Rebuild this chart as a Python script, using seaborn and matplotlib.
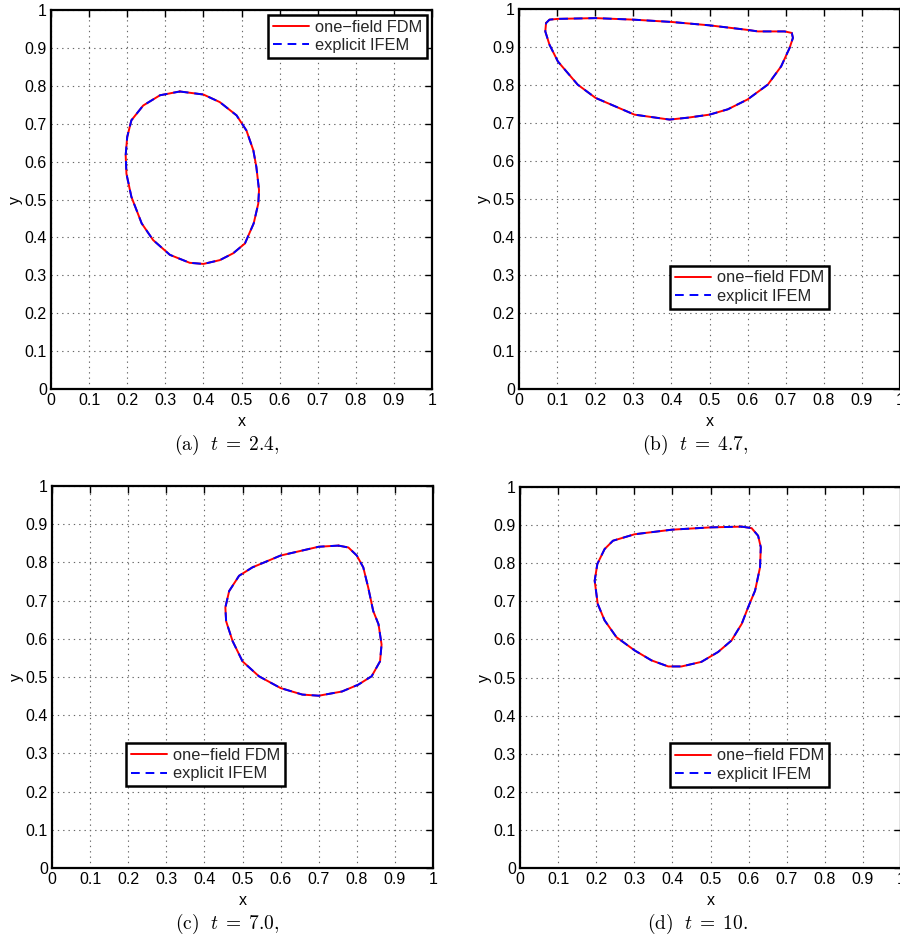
import matplotlib
matplotlib.use("Agg")
import matplotlib.pyplot as plt
import seaborn as sns
import pandas as pd

sns.set_theme(style="white")
plt.rcParams["font.family"] = ["Liberation Sans", "DejaVu Sans"]
plt.rcParams["mathtext.fontset"] = "cm"

# ---- data -------------------------------------------------------------
tick_values = [0, 0.1, 0.2, 0.3, 0.4, 0.5, 0.6, 0.7, 0.8, 0.9, 1.0]
tick_labels = ["0", "0.1", "0.2", "0.3", "0.4", "0.5", "0.6", "0.7", "0.8", "0.9", "1"]
series_names = ["one\u2212field FDM", "explicit IFEM"]
captions = [r"$\mathrm{(a)}\ \ t\;=\;2.4,$", r"$\mathrm{(b)}\ \ t\;=\;4.7,$",
            r"$\mathrm{(c)}\ \ t\;=\;7.0,$", r"$\mathrm{(d)}\ \ t\;=\;10.$"]

# (a) t = 2.4
a_x = [0.338, 0.400, 0.443, 0.487, 0.513, 0.531, 0.539, 0.546, 0.544, 0.532, 0.509, 0.478, 0.443,
       0.400, 0.364, 0.312, 0.268, 0.238, 0.211, 0.198, 0.196, 0.200, 0.211, 0.242, 0.286, 0.338]
a_y = [0.785, 0.777, 0.757, 0.722, 0.682, 0.630, 0.586, 0.525, 0.489, 0.437, 0.384, 0.358, 0.340,
       0.330, 0.333, 0.354, 0.393, 0.437, 0.507, 0.568, 0.617, 0.665, 0.709, 0.748, 0.775, 0.785]
# (b) t = 4.7
b_x = [0.071, 0.080, 0.102, 0.201, 0.300, 0.399, 0.500, 0.600, 0.627, 0.697, 0.716, 0.719, 0.710,
       0.688, 0.653, 0.600, 0.548, 0.500, 0.443, 0.395, 0.303, 0.201, 0.154, 0.102, 0.080, 0.069, 0.071]
b_y = [0.963, 0.972, 0.974, 0.976, 0.972, 0.966, 0.957, 0.945, 0.941, 0.941, 0.937, 0.924, 0.897,
       0.849, 0.801, 0.762, 0.736, 0.722, 0.714, 0.709, 0.722, 0.766, 0.801, 0.862, 0.906, 0.941, 0.963]
# (c) t = 7.0
c_x = [0.752, 0.778, 0.800, 0.817, 0.830, 0.843, 0.857, 0.865, 0.861, 0.839, 0.804, 0.761, 0.700,
       0.657, 0.600, 0.543, 0.500, 0.474, 0.457, 0.455, 0.465, 0.491, 0.526, 0.600, 0.700, 0.752]
c_y = [0.844, 0.839, 0.818, 0.787, 0.734, 0.673, 0.638, 0.585, 0.541, 0.502, 0.480, 0.462, 0.451,
       0.454, 0.471, 0.502, 0.541, 0.594, 0.646, 0.682, 0.725, 0.765, 0.787, 0.818, 0.841, 0.844]
# (d) t = 10
d_x = [0.582, 0.608, 0.625, 0.632, 0.630, 0.617, 0.599, 0.582, 0.555, 0.520, 0.476, 0.424, 0.389,
       0.345, 0.301, 0.253, 0.222, 0.204, 0.196, 0.203, 0.222, 0.244, 0.301, 0.399, 0.500, 0.582]
d_y = [0.896, 0.892, 0.872, 0.842, 0.789, 0.728, 0.685, 0.641, 0.597, 0.567, 0.541, 0.529, 0.529,
       0.545, 0.571, 0.606, 0.650, 0.693, 0.754, 0.798, 0.837, 0.859, 0.876, 0.888, 0.894, 0.896]

# the two methods coincide at plotting resolution
curves_fdm = [(a_x, a_y), (b_x, b_y), (c_x, c_y), (d_x, d_y)]
curves_ifem = [(a_x, a_y), (b_x, b_y), (c_x, c_y), (d_x, d_y)]

# ---- layout -----------------------------------------------------------
fig = plt.figure(figsize=(9, 9.4), dpi=100)
W, H = 900.0, 940.0
ax_boxes = [(51, 10, 432, 389), (519, 9, 900, 389), (52, 486, 433, 868), (520, 487, 901, 868)]
legend_specs = [dict(loc="upper right", bbox_to_anchor=(1.0, 1.0), borderaxespad=0.3),
                dict(loc="upper left", bbox_to_anchor=(0.396, 0.325), borderaxespad=0.0),
                dict(loc="upper left", bbox_to_anchor=(0.194, 0.327), borderaxespad=0.0),
                dict(loc="upper left", bbox_to_anchor=(0.394, 0.327), borderaxespad=0.0)]
caption_pos = [(227, 445), (695, 445), (227, 924), (697, 924)]

for i in range(4):
    l, t, r, b = ax_boxes[i]
    ax = fig.add_axes([l / W, 1 - b / H, (r - l) / W, (b - t) / H])
    fx, fy = curves_fdm[i]
    ix, iy = curves_ifem[i]
    sns.lineplot(x=fx, y=fy, sort=False, estimator=None, color="#ff0000", linewidth=1.4,
                 label=series_names[0], ax=ax)
    sns.lineplot(x=ix, y=iy, sort=False, estimator=None, color="#0000ff", linewidth=1.4,
                 dashes=False, linestyle=(0, (4.5, 3.0)), label=series_names[1], ax=ax)
    ax.set_xlim(0, 1)
    ax.set_ylim(0, 1)
    ax.set_xticks(tick_values)
    ax.set_xticklabels(tick_labels)
    ax.set_yticks(tick_values)
    ax.set_yticklabels(tick_labels)
    ax.tick_params(direction="in", top=True, right=True, length=5, width=1.0,
                   labelsize=11.5, pad=3, colors="black")
    ax.grid(True, linestyle=(0, (1.2, 3.6)), color="#666666", linewidth=0.8)
    for sp in ax.spines.values():
        sp.set_color("black")
        sp.set_linewidth(1.6)
    ax.set_xlabel("x", fontsize=11.5, labelpad=4, color="black")
    ax.set_ylabel("y", fontsize=11.5, labelpad=1, color="black")
    leg = ax.legend(fontsize=11.8, frameon=True, fancybox=False, framealpha=1,
                    edgecolor="black", facecolor="white", handlelength=2.2,
                    handletextpad=0.35, labelspacing=0.2, borderpad=0.3,
                    **legend_specs[i])
    leg.get_frame().set_linewidth(1.8)
    cx, cy = caption_pos[i]
    fig.text(cx / W, 1 - cy / H, captions[i], ha="center", va="center", fontsize=14,
             color="black")

fig.savefig("out.png", dpi=100)
